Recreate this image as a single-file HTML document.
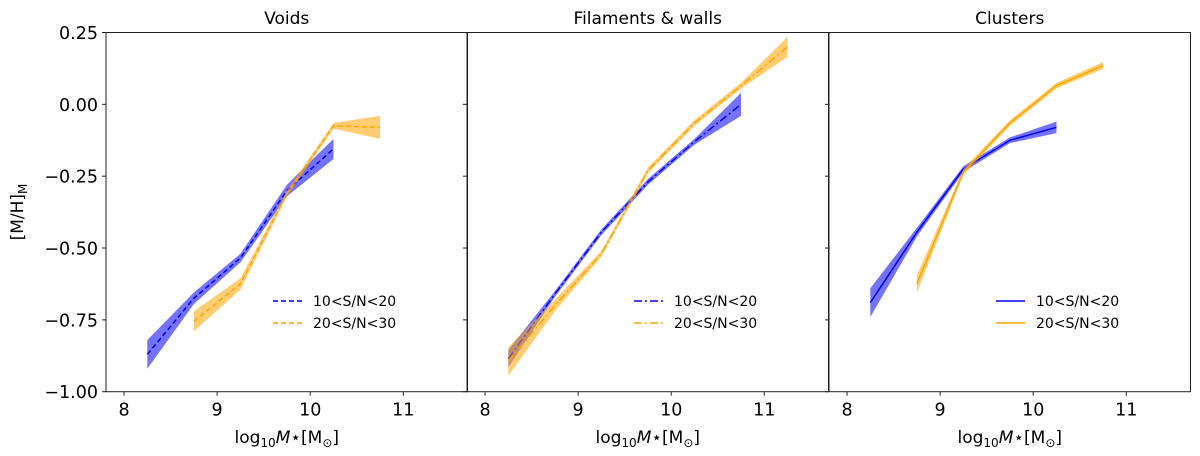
<!DOCTYPE html>
<html><head><meta charset="utf-8"><style>
html,body{margin:0;padding:0;background:#fff;}
svg{display:block;font-family:"DejaVu Sans","Liberation Sans",sans-serif;}
</style></head><body>
<svg id="chart" width="1200" height="456" viewBox="0 0 1200 456"></svg>
<script>
const panelTitles = ["Voids", "Filaments & walls", "Clusters"];
const seriesLabels = ["10<S/N<20", "20<S/N<30"];
const xTicks = [8, 9, 10, 11];
const yTicks = [0.25, 0.00, -0.25, -0.50, -0.75, -1.00];
const yTickLabels = ["0.25", "0.00", "\u22120.25", "\u22120.50", "\u22120.75", "\u22121.00"];
// Voids
const voidsBlueX = [8.25, 8.75, 9.25, 9.75, 10.25];
const voidsBlueY = [-0.87, -0.675, -0.535, -0.30, -0.155];
const voidsBlueErr = [0.05, 0.02, 0.015, 0.02, 0.035];
const voidsOrangeX = [8.75, 9.25, 9.75, 10.25, 10.75];
const voidsOrangeY = [-0.755, -0.625, -0.31, -0.075, -0.08];
const voidsOrangeErr = [0.035, 0.02, 0.01, 0.01, 0.04];
// Filaments & walls
const filBlueX = [8.25, 8.75, 9.25, 9.75, 10.25, 10.75];
const filBlueY = [-0.885, -0.66, -0.445, -0.27, -0.13, 0.0];
const filBlueErr = [0.03, 0.01, 0.01, 0.01, 0.01, 0.04];
const filOrangeX = [8.25, 8.75, 9.25, 9.75, 10.25, 10.75, 11.25];
const filOrangeY = [-0.895, -0.70, -0.52, -0.23, -0.065, 0.065, 0.20];
const filOrangeErr = [0.05, 0.02, 0.01, 0.01, 0.01, 0.01, 0.035];
// Clusters
const cluBlueX = [8.25, 8.75, 9.25, 9.75, 10.25];
const cluBlueY = [-0.69, -0.445, -0.225, -0.125, -0.08];
const cluBlueErr = [0.05, 0.015, 0.01, 0.01, 0.02];
const cluOrangeX = [8.75, 9.25, 9.75, 10.25, 10.75];
const cluOrangeY = [-0.625, -0.235, -0.065, 0.065, 0.135];
const cluOrangeErr = [0.03, 0.01, 0.01, 0.01, 0.012];

const NS = "http://www.w3.org/2000/svg";
const svg = document.getElementById("chart");
function mk(tag, attrs, parent) {
  const e = document.createElementNS(NS, tag);
  for (const k in attrs) e.setAttribute(k, attrs[k]);
  (parent || svg).appendChild(e);
  return e;
}
const TOP = 32.5, BOT = 391.7, YMAX = 0.25, YMIN = -1.0;
const XMIN = 7.806, XMAX = 11.69;
const panelLefts = [106, 467, 829];
const PW = 361.5;
function yS(v) { return TOP + (YMAX - v) / (YMAX - YMIN) * (BOT - TOP); }
function xS(p, v) { return panelLefts[p] + (v - XMIN) / (XMAX - XMIN) * PW; }

const BLUE = "#0000ff", ORANGE = "#ffa500";
const panels = [
  {series: [[voidsBlueX, voidsBlueY, voidsBlueErr, BLUE], [voidsOrangeX, voidsOrangeY, voidsOrangeErr, ORANGE]], dash: "5,3"},
  {series: [[filBlueX, filBlueY, filBlueErr, BLUE], [filOrangeX, filOrangeY, filOrangeErr, ORANGE]], dash: "8,3,2,3"},
  {series: [[cluBlueX, cluBlueY, cluBlueErr, BLUE], [cluOrangeX, cluOrangeY, cluOrangeErr, ORANGE]], dash: "none"}
];
const serNames = ["blue", "orange"];

panels.forEach((pd, p) => {
  const g = mk("g", {});
  
  
  const L = panelLefts[p];
  pd.series.forEach((s, si) => {
    const [xs, ys, es, col] = s;
    let up = xs.map((x, i) => xS(p, x) + "," + yS(ys[i] + es[i]));
    let dn = xs.map((x, i) => xS(p, x) + "," + yS(ys[i] - es[i])).reverse();
    const band = mk("polygon", {points: up.concat(dn).join(" "), fill: col, "fill-opacity": 0.55, stroke: "none"}, g);
    
    
    const line = mk("polyline", {points: xs.map((x, i) => xS(p, x) + "," + yS(ys[i])).join(" "), fill: "none", stroke: col, "stroke-width": 1.5, "stroke-dasharray": pd.dash}, g);
    
    
  });
  const frame = mk("rect", {x: L, y: TOP, width: PW, height: BOT - TOP, fill: "none", stroke: "#222", "stroke-width": 1}, g);
  
  
  xTicks.forEach(t => {
    const x = xS(p, t);
    mk("line", {x1: x, x2: x, y1: BOT, y2: BOT + 4, stroke: "#222"}, g);
    const tl = mk("text", {x: x, y: BOT + 24, "text-anchor": "middle", "font-size": 17.5, fill: "#000"}, g);
    tl.textContent = t;
    
    
  });
  yTicks.forEach((t, i) => {
    const y = yS(t);
    mk("line", {x1: L - 4, x2: L, y1: y, y2: y, stroke: "#222"}, g);
    if (p === 0) {
      const tl = mk("text", {x: L - 8, y: y + 6.5, "text-anchor": "end", "font-size": 17.5, fill: "#000"}, g);
      tl.textContent = yTickLabels[i];
      
      
    }
  });
  const title = mk("text", {x: L + PW / 2, y: 24, "text-anchor": "middle", "font-size": 17, fill: "#000"}, g);
  title.textContent = panelTitles[p];
  
  
  const xl = mk("text", {x: L + PW / 2, y: 443, "text-anchor": "middle", "font-size": 17, fill: "#000"}, g);
  xl.innerHTML = 'log<tspan font-size="12" dy="4">10</tspan><tspan dy="-4" font-style="italic">M</tspan><tspan>\u22c6[M</tspan><tspan font-size="12" dy="4">\u2299</tspan><tspan dy="-4">]</tspan>';
  
  
  const lg = mk("g", {}, g);
  
  
  const lx = L + 167;
  [BLUE, ORANGE].forEach((c, i) => {
    const ly = 301 + i * 22;
    mk("line", {x1: lx, x2: lx + 29, y1: ly, y2: ly, stroke: c, "stroke-width": 1.5, "stroke-dasharray": pd.dash}, lg);
    const t = mk("text", {x: lx + 40, y: ly + 5, "font-size": 14, fill: "#000"}, lg);
    t.textContent = seriesLabels[i];
    
    
  });
});
const yl = mk("text", {x: 0, y: 0, transform: "translate(23,212) rotate(-90)", "text-anchor": "middle", "font-size": 17, fill: "#000"});
yl.innerHTML = '[M/H]<tspan font-size="12" dy="4">M</tspan>';


</script>
</body></html>
